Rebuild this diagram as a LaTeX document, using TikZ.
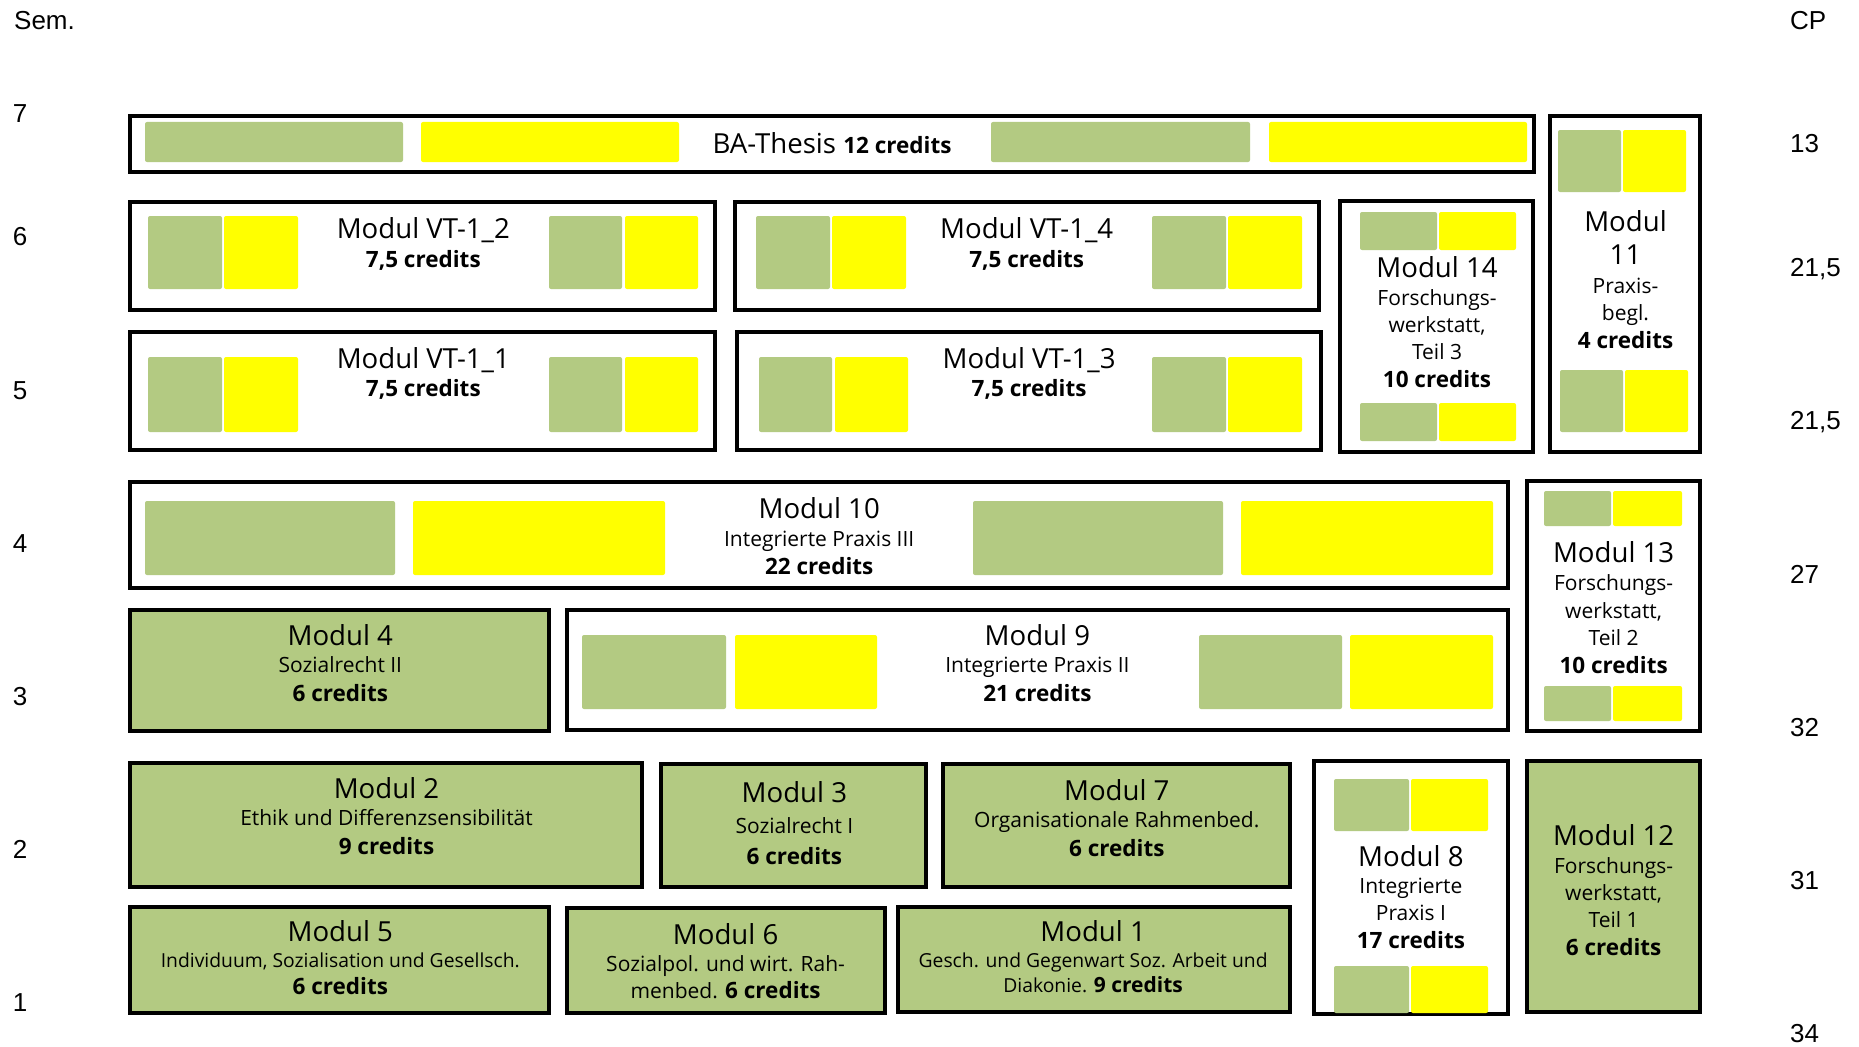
\documentclass[tikz,border=0pt]{standalone}
\usepackage{fontspec}
\usetikzlibrary{fit}
\newfontfamily\modf{Open Sans}
\newfontfamily\labf{Liberation Sans}
\definecolor{mgreen}{RGB}{179,202,130}
\definecolor{myellow}{RGB}{255,255,0}
\tikzset{
  box/.style={draw=black, line width=4pt, inner sep=-2pt, fill=white},
  gbox/.style={box, fill=mgreen},
  gbar/.style={fill=mgreen, rounded corners=2pt},
  ybar/.style={fill=myellow, rounded corners=2pt},
  ttl/.style={font=\modf\fontsize{27.6}{30}\selectfont, anchor=base, inner sep=0pt},
  sub/.style={font=\modf\fontsize{21}{23}\selectfont, anchor=base, inner sep=0pt},
  subs/.style={font=\modf\fontsize{19.3}{23}\selectfont, anchor=base, inner sep=0pt},
  cred/.style={font=\modf\bfseries\fontsize{22.5}{23}\selectfont, anchor=base, inner sep=0pt},
  lab/.style={font=\labf\fontsize{26}{26}\selectfont, anchor=base, inner sep=0pt},
}
\begin{document}
\begin{tikzpicture}[x=1pt,y=-1pt]
\useasboundingbox[fill=white] (0,0) rectangle (1859,1046);
% axis labels
\node[lab, anchor=base west] (sem) at (14,30) {Sem.};
\node[lab, anchor=base west] (cp) at (1790,30) {CP};
\node[lab] (s7) at (20,122.5) {7};
\node[lab] (s6) at (20,245.5) {6};
\node[lab] (s5) at (20,399.5) {5};
\node[lab] (s4) at (20,552.5) {4};
\node[lab] (s3) at (20,705.5) {3};
\node[lab] (s2) at (20,858.5) {2};
\node[lab] (s1) at (20,1011.5) {1};
\node[lab, anchor=base west] (c7) at (1790,152.3) {13};
\node[lab, anchor=base west] (c6) at (1790,276.3) {21,5};
\node[lab, anchor=base west] (c5) at (1790,429.3) {21,5};
\node[lab, anchor=base west] (c4) at (1790,583.3) {27};
\node[lab, anchor=base west] (c3) at (1790,736.3) {32};
\node[lab, anchor=base west] (c2) at (1790,889.3) {31};
\node[lab, anchor=base west] (c1) at (1790,1042.3) {34};
% boxes
\node[box, fit={(128,114) (1536,174)}] (ba) {};
\node[box, fit={(1548,114) (1702,454)}] (m11) {};
\node[box, fit={(128,200) (717,312)}] (vt12) {};
\node[box, fit={(733,200) (1321,312)}] (vt14) {};
\node[box, fit={(1338,199) (1535,454)}] (m14) {};
\node[box, fit={(128,330) (717,452)}] (vt11) {};
\node[box, fit={(735,330) (1323,452)}] (vt13) {};
\node[box, fit={(128,480) (1510,590)}] (m10) {};
\node[box, fit={(1525,479) (1702,733)}] (m13) {};
\node[gbox, fit={(128,608) (551,733)}] (m4) {};
\node[box, fit={(565,608) (1510,732)}] (m9) {};
\node[gbox, fit={(128,761) (644,889)}] (m2) {};
\node[gbox, fit={(659,762) (928,889)}] (m3) {};
\node[gbox, fit={(941,762) (1292,889)}] (m7) {};
\node[box, fit={(1312,759) (1510,1016)}] (m8) {};
\node[gbox, fit={(1525,759) (1702,1014)}] (m12) {};
\node[gbox, fit={(128,905) (551,1015)}] (m5) {};
\node[gbox, fit={(565,906) (887,1015)}] (m6) {};
\node[gbox, fit={(896,905) (1292,1014)}] (m1) {};
% bars
% BA
\fill[gbar] (145,122) rectangle (403,162);
\fill[ybar] (421,122) rectangle (679,162);
\fill[gbar] (991,122) rectangle (1250,162);
\fill[ybar] (1269,122) rectangle (1527,162);
% M11
\fill[gbar] (1558,130) rectangle (1621,192);
\fill[ybar] (1623,130) rectangle (1686,192);
\fill[gbar] (1560,370) rectangle (1623,432);
\fill[ybar] (1625,370) rectangle (1688,432);
% VT-1_2
\fill[gbar] (148,216) rectangle (222,289);
\fill[ybar] (224,216) rectangle (298,289);
\fill[gbar] (549,216) rectangle (622,289);
\fill[ybar] (625,216) rectangle (698,289);
% VT-1_4
\fill[gbar] (756,216) rectangle (830,289);
\fill[ybar] (832,216) rectangle (906,289);
\fill[gbar] (1152,216) rectangle (1226,289);
\fill[ybar] (1228,216) rectangle (1302,289);
% M14
\fill[gbar] (1360,212) rectangle (1437,250);
\fill[ybar] (1439,212) rectangle (1516,250);
\fill[gbar] (1360,403) rectangle (1437,441);
\fill[ybar] (1439,403) rectangle (1516,441);
% VT-1_1
\fill[gbar] (148,357) rectangle (222,432);
\fill[ybar] (224,357) rectangle (298,432);
\fill[gbar] (549,357) rectangle (622,432);
\fill[ybar] (625,357) rectangle (698,432);
% VT-1_3
\fill[gbar] (759,357) rectangle (832,432);
\fill[ybar] (835,357) rectangle (908,432);
\fill[gbar] (1152,357) rectangle (1226,432);
\fill[ybar] (1228,357) rectangle (1302,432);
% M10
\fill[gbar] (145,501) rectangle (395,575);
\fill[ybar] (413,501) rectangle (665,575);
\fill[gbar] (973,501) rectangle (1223,575);
\fill[ybar] (1241,501) rectangle (1493,575);
% M13
\fill[gbar] (1544,491) rectangle (1611,526);
\fill[ybar] (1613,491) rectangle (1682,526);
\fill[gbar] (1544,686) rectangle (1611,721);
\fill[ybar] (1613,686) rectangle (1682,721);
% M9
\fill[gbar] (582,635) rectangle (726,709);
\fill[ybar] (735,635) rectangle (877,709);
\fill[gbar] (1199,635) rectangle (1342,709);
\fill[ybar] (1350,635) rectangle (1493,709);
% M8
\fill[gbar] (1334,779) rectangle (1409,831);
\fill[ybar] (1411,779) rectangle (1488,831);
\fill[gbar] (1334,966) rectangle (1409,1013);
\fill[ybar] (1411,966) rectangle (1488,1013);
% texts
\node[ttl] (bat) at (832,153.5) {BA-Thesis {\bfseries\fontsize{22.5}{23}\selectfont 12 credits}};
\node[ttl] (m11a) at (1625.5,231.7) {Modul};
\node[ttl] (m11b) at (1625.5,264.9) {11};
\node[sub] (m11c) at (1625.5,293.2) {Praxis-};
\node[sub] (m11d) at (1625.5,320.5) {begl.};
\node[cred] (m11e) at (1625.5,348.3) {4 credits};
\node[ttl] (vt12a) at (423.3,238.8) {Modul VT-1\_2};
\node[cred] (vt12b) at (423.3,267.6) {7,5 credits};
\node[ttl] (vt14a) at (1026.7,238.8) {Modul VT-1\_4};
\node[cred] (vt14b) at (1026.7,267.6) {7,5 credits};
\node[ttl] (m14a) at (1437,277.9) {Modul 14};
\node[sub] (m14b) at (1437,305.1) {Forschungs-};
\node[sub] (m14c) at (1437,332.4) {werkstatt,};
\node[sub] (m14d) at (1437,359.6) {Teil 3};
\node[cred] (m14e) at (1437,387.4) {10 credits};
\node[ttl] (vt11a) at (423.3,368.1) {Modul VT-1\_1};
\node[cred] (vt11b) at (423.3,396.9) {7,5 credits};
\node[ttl] (vt13a) at (1029.1,368.1) {Modul VT-1\_3};
\node[cred] (vt13b) at (1029.1,396.9) {7,5 credits};
\node[ttl] (m10a) at (819.2,518.6) {Modul 10};
\node[sub] (m10b) at (819.2,546.9) {Integrierte Praxis III};
\node[cred] (m10c) at (819.2,574.7) {22 credits};
\node[ttl] (m13a) at (1613.6,562.5) {Modul 13};
\node[sub] (m13b) at (1613.6,590.8) {Forschungs-};
\node[sub] (m13c) at (1613.6,618.1) {werkstatt,};
\node[sub] (m13d) at (1613.6,645.4) {Teil 2};
\node[cred] (m13e) at (1613.6,673.1) {10 credits};
\node[ttl] (m4a) at (340.3,645.5) {Modul 4};
\node[sub] (m4b) at (340.3,672.6) {Sozialrecht II};
\node[cred] (m4c) at (340.3,701.6) {6 credits};
\node[ttl] (m9a) at (1037.4,645.5) {Modul 9};
\node[sub] (m9b) at (1037.4,672.6) {Integrierte Praxis II};
\node[cred] (m9c) at (1037.4,701.6) {21 credits};
\node[ttl] (m2a) at (386.5,798.4) {Modul 2};
\node[sub] (m2b) at (386.5,825.6) {Ethik und Differenzsensibilität};
\node[cred] (m2c) at (386.5,854.5) {9 credits};
\node[ttl] (m3a) at (794.4,802) {Modul 3};
\node[sub] (m3b) at (794.4,833.9) {Sozialrecht I};
\node[cred] (m3c) at (794.4,864) {6 credits};
\node[ttl] (m7a) at (1116.8,800.8) {Modul 7};
\node[sub] (m7b) at (1116.8,827.9) {Organisationale Rahmenbed.};
\node[cred] (m7c) at (1116.8,856.9) {6 credits};
\node[ttl] (m8a) at (1410.9,866) {Modul 8};
\node[sub] (m8b) at (1410.9,893.1) {Integrierte};
\node[sub] (m8c) at (1410.9,920.4) {Praxis I};
\node[cred] (m8d) at (1410.9,948.2) {17 credits};
\node[ttl] (m12a) at (1613.6,845.8) {Modul 12};
\node[sub] (m12b) at (1613.6,873) {Forschungs-};
\node[sub] (m12c) at (1613.6,900.3) {werkstatt,};
\node[sub] (m12d) at (1613.6,927.5) {Teil 1};
\node[cred] (m12e) at (1613.6,955.3) {6 credits};
\node[ttl] (m5a) at (340.3,941.9) {Modul 5};
\node[subs] (m5b) at (340.3,967.5) {Individuum, Sozialisation und Gesellsch.};
\node[cred] (m5c) at (340.3,994.4) {6 credits};
\node[ttl] (m6a) at (725.6,944.2) {Modul 6};
\node[sub] (m6b) at (725.6,971.4) {Sozialpol. und wirt. Rah-};
\node[sub] (m6c) at (725.6,998.7) {menbed. {\bfseries\fontsize{22.5}{23}\selectfont 6 credits}};
\node[ttl] (m1a) at (1093.1,941.9) {Modul 1};
\node[subs] (m1b) at (1093.1,967.5) {Gesch. und Gegenwart Soz. Arbeit und};
\node[subs] (m1c) at (1093.1,992.4) {Diakonie. {\bfseries\fontsize{21}{23}\selectfont 9 credits}};
\end{tikzpicture}
\end{document}
